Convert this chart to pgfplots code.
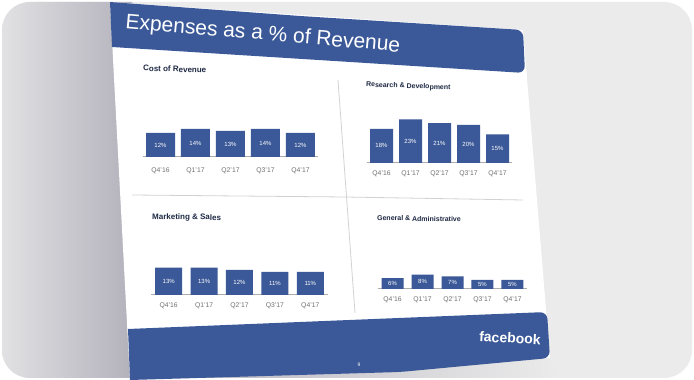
\documentclass[border=0pt]{standalone}
\usepackage{pgfplots}
\pgfplotsset{compat=1.18}
\usepackage{fontspec}
\setmainfont{Liberation Sans}
\definecolor{fbblue}{HTML}{3B5998}
\definecolor{bggrey}{HTML}{EBEBEB}
\definecolor{darkgrey}{HTML}{B3B1BB}
\definecolor{lightgrey}{HTML}{E2E2E4}
\definecolor{ticktext}{HTML}{707070}
\definecolor{titlenavy}{HTML}{1F2A44}
\definecolor{divider}{HTML}{D2D2D2}

\pgfplotsset{panel/.style={
  scale only axis, ybar, bar shift=0pt,
  ymin=0, ymax=25, xmin=-0.5, xmax=4.5,
  anchor=south west,
  /pgf/number format/assume math mode=true,
  axis y line=none, axis x line*=bottom,
  axis line style={draw=gray!65, line width=1pt, -},
  xtick={0,1,2,3,4}, xticklabels={Q4'16,Q1'17,Q2'17,Q3'17,Q4'17},
  major tick length=0pt,
  xticklabel style={font=\fontsize{6.8}{7}\selectfont, text=ticktext, yshift=-4pt},
  clip=false,
  nodes near coords={\pgfmathprintnumber{\pgfplotspointmeta}\%},
  visualization depends on={y \as \yval},
  every node near coord/.append style={font=\fontsize{6}{7}\selectfont, text=white,
     anchor=center, shift={(axis direction cs:0,-\yval/2)}},
}}

\begin{document}
\begin{tikzpicture}
\begin{scope}[x=1pt,y=1pt]
\path (0,0) rectangle (694,380);
\fill[white] (0,0) rectangle (694,380);
\fill[bggrey, rounded corners=28pt] (2,2) rectangle (692,378);
\begin{scope}
\clip[rounded corners=28pt] (2,2) rectangle (692,378);
\shade[left color=lightgrey, right color=darkgrey] (0,0) rectangle (132,380);
\shade[left color=darkgrey, right color=bggrey] (130,0) -- (549,22) -- (560,0) -- cycle;
\end{scope}
% slide
\fill[white] (110,378) -- (523,350) -- (550,22) -- (130,0) -- cycle;
% title bar
\fill[fbblue] (300,364) [rounded corners=7pt] -- (523,350) -- (525,307) [sharp corners] -- (112,333) -- (110,378) -- cycle;
\node[anchor=base west, rotate=-5, text=white, font=\fontsize{21}{24}\selectfont, inner sep=0pt] at (125,352) {Expenses as a \% of Revenue};
% footer
\fill[fbblue] (300,58) [rounded corners=7pt] -- (547,68) -- (550,22) -- (400,8) [sharp corners] -- (130,0) -- (128,51) -- cycle;
\node[text=white, font=\fontsize{14}{16}\selectfont\bfseries, rotate=-3] at (510,42) {facebook};
\node[text=white, font=\fontsize{5}{6}\selectfont] at (359,15) {9};
% dividers
\draw[divider, line width=0.8pt] (338,300) -- (355,67);
\draw[divider, line width=0.8pt] (132,185) -- (345,183) -- (523,180);
% panel titles
\node[anchor=west, text=titlenavy, font=\fontsize{8}{9}\selectfont\bfseries, rotate=-2, inner sep=0pt] at (143,312) {Cost of Revenue};
\node[anchor=west, text=titlenavy, font=\fontsize{7}{8}\selectfont\bfseries, rotate=-2, inner sep=0pt] at (366,295) {Research \& Development};
\node[anchor=west, text=titlenavy, font=\fontsize{8}{9}\selectfont\bfseries, rotate=-1, inner sep=0pt] at (152,163) {Marketing \& Sales};
\node[anchor=west, text=titlenavy, font=\fontsize{7}{8}\selectfont\bfseries, rotate=-1, inner sep=0pt] at (377,162) {General \& Administrative};
\end{scope}

% Cost of Revenue
\begin{axis}[panel, at={(143pt,223pt)}, width=175pt, height=50pt,
  xticklabel style={yshift=-3pt}]
\addplot[fill=fbblue, draw=none, bar width=29pt] coordinates {(0,12) (1,14) (2,13) (3,14) (4,12)};
\end{axis}

% Research & Development
\begin{axis}[panel, at={(367pt,217pt)}, width=145pt, height=47.5pt]
\addplot[fill=fbblue, draw=none, bar width=23pt] coordinates {(0,18) (1,23) (2,21) (3,20) (4,15)};
\end{axis}

% Marketing & Sales
\begin{axis}[panel, at={(151pt,85pt)}, width=177pt, height=52.5pt]
\addplot[fill=fbblue, draw=none, bar width=27pt] coordinates {(0,13) (1,13) (2,12) (3,11) (4,11)};
\end{axis}

% General & Administrative
\begin{axis}[panel, at={(377.5pt,91pt)}, width=150pt, height=45pt]
\addplot[fill=fbblue, draw=none, bar width=22pt] coordinates {(0,6) (1,8) (2,7) (3,5) (4,5)};
\end{axis}
\end{tikzpicture}
\end{document}
